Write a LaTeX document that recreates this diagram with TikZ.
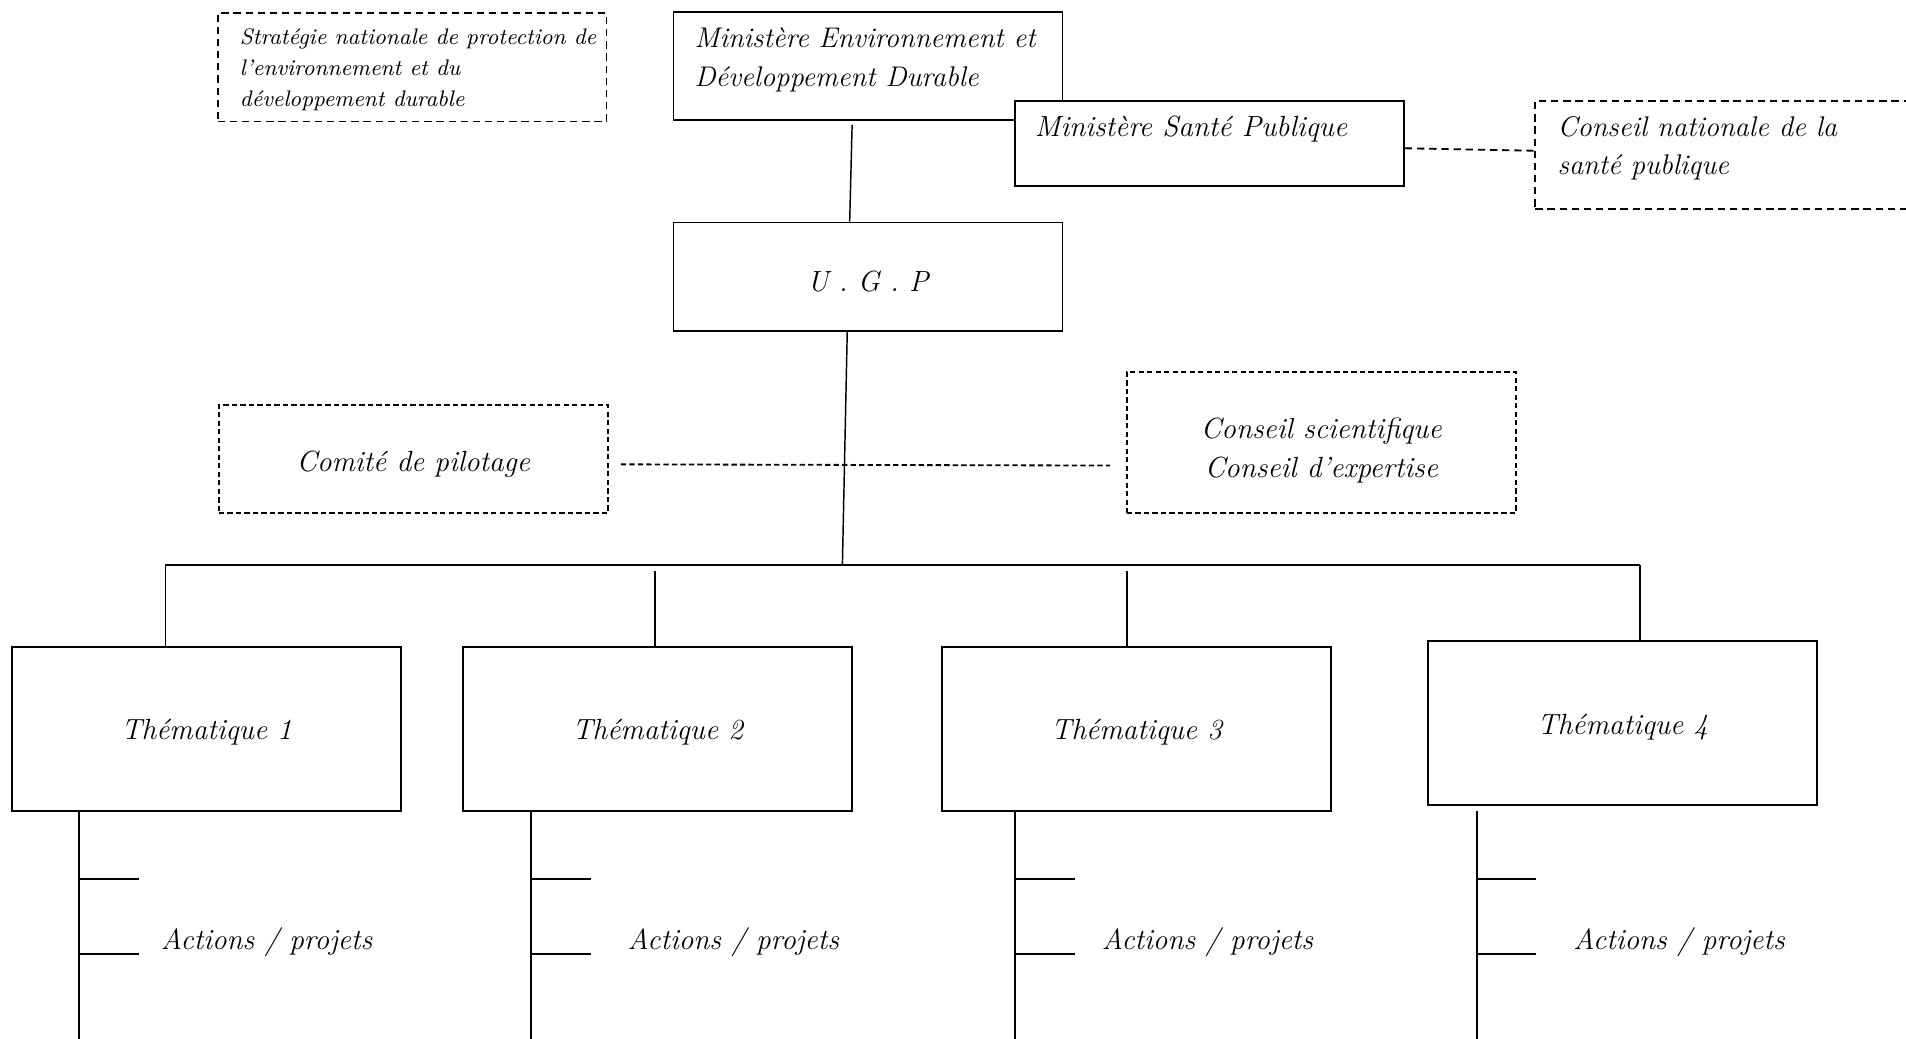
\documentclass[tikz,border=0pt]{standalone}
\usetikzlibrary{calc}
\begin{document}
\begin{tikzpicture}[x=0.5pt,y=-0.5pt,
  box/.style={draw,line width=0.75pt,fill=white,minimum width=160pt,minimum height=44.5pt,inner sep=0pt,anchor=center},
  dbox/.style={box,dash pattern=on 3pt off 2pt},
  sbox/.style={box,dash pattern=on 2.2pt off 1.3pt},
  tbox/.style={box,minimum height=67.5pt},
  txt/.style={font=\fontsize{12}{16}\selectfont\itshape,inner sep=0pt,align=left},
  small/.style={txt,font=\fontsize{9.25}{12.75}\selectfont\itshape},
  conn/.style={line width=0.6pt},
  bus/.style={line width=0.9pt},
  tick/.style={line width=0.9pt},
  dconn/.style={line width=0.75pt,dash pattern=on 3pt off 2pt},
  sconn/.style={line width=0.75pt,dash pattern=on 2.2pt off 1.3pt}
]
\clip (0,0) rectangle (1568,854);
\fill[white] (0,0) rectangle (1568,854);

% top row
\node[dbox] (strat) at (339,55.5) {};
\node[small,anchor=west] (strattxt) at (197,57) {Stratégie nationale de protection de\\l'environnement et du\\développement durable};

\node[box] (mine) at (714,54.5) {};
\node[txt,font=\fontsize{11.7}{16}\selectfont\itshape,anchor=west] (minetxt) at (571,49) {Ministère Environnement et\\Développement Durable};

\node[box,minimum height=35pt] (sante) at (995,118) {};
\node[txt,anchor=west] (santetxt) at (851,106) {Ministère Santé Publique};

\node[dbox] (cn) at (1423,127.5) {};
\node[txt,font=\fontsize{11.7}{16}\selectfont\itshape,anchor=west] (cntxt) at (1281,122) {Conseil nationale de la\\santé publique};

\draw[dconn] ([shift={(0,4)}]sante.east) -- ([shift={(0,-3.5)}]cn.west);

% UGP
\node[box] (ugp) at (714,227.5) {};
\node[txt,anchor=center] (ugptxt) at (714,232) {U . G . P};
\draw[conn] ([shift={(-13,3)}]mine.south) -- ([shift={(-15,0)}]ugp.north);

% committees
\node[sbox] (comite) at (340,377.5) {};
\node[txt,anchor=center] (comitetxt) at (340,382) {Comité de pilotage};
\node[sbox,minimum height=58pt] (cs) at (1087,364) {};
\node[txt,anchor=center,align=center] (cstxt) at (1087,371) {Conseil scientifique\\Conseil d'expertise};

\coordinate (busL) at (136,465);
\coordinate (busM) at (693,465);
\coordinate (busR) at (1349,465);
\draw[conn] ([shift={(-17,0)}]ugp.south) -- (busM);
\draw[sconn] ([shift={(10,4.5)}]comite.east) -- ([shift={(-13,19)}]cs.west);
\draw[bus] (busL) -- (busR);

% thematiques
\node[tbox] (t1) at (170,599.5) {};
\node[tbox] (t2) at (541,599.5) {};
\node[tbox] (t3) at (935,599.5) {};
\node[tbox] (t4) at (1335,594.5) {};
\node[txt,anchor=center] (t1txt) at (170,602) {Thématique 1};
\node[txt,anchor=center] (t2txt) at (541,602) {Thématique 2};
\node[txt,anchor=center] (t3txt) at (935,602) {Thématique 3};
\node[txt,anchor=center] (t4txt) at (1335,598) {Thématique 4};

\coordinate (d2) at (539,470);
\coordinate (d3) at (927,470);
\draw[conn] (busL) -- (busL |- t1.north);
\draw[conn] (d2) -- (d2 |- t2.north);
\draw[conn] (d3) -- (d3 |- t3.north);
\draw[conn] (busR) -- (busR |- t4.north);

% actions
\foreach \n/\x/\y/\tx in {1/65/667/132, 2/437/667/516, 3/835/667/906, 4/1215/667/1294}{
  \coordinate (v\n) at (\x,\y);
  \coordinate (ve\n) at (\x,860);
  \draw[conn] (v\n) -- (ve\n);
  \coordinate (a\n) at (\x,723);
  \coordinate (ae\n) at (\x+49,723);
  \coordinate (b\n) at (\x,785);
  \coordinate (be\n) at (\x+49,785);
  \draw[tick] (a\n) -- (ae\n);
  \draw[tick] (b\n) -- (be\n);
  \node[txt,anchor=west] (act\n) at (\tx,775) {Actions / projets};
}
\end{tikzpicture}
\end{document}
